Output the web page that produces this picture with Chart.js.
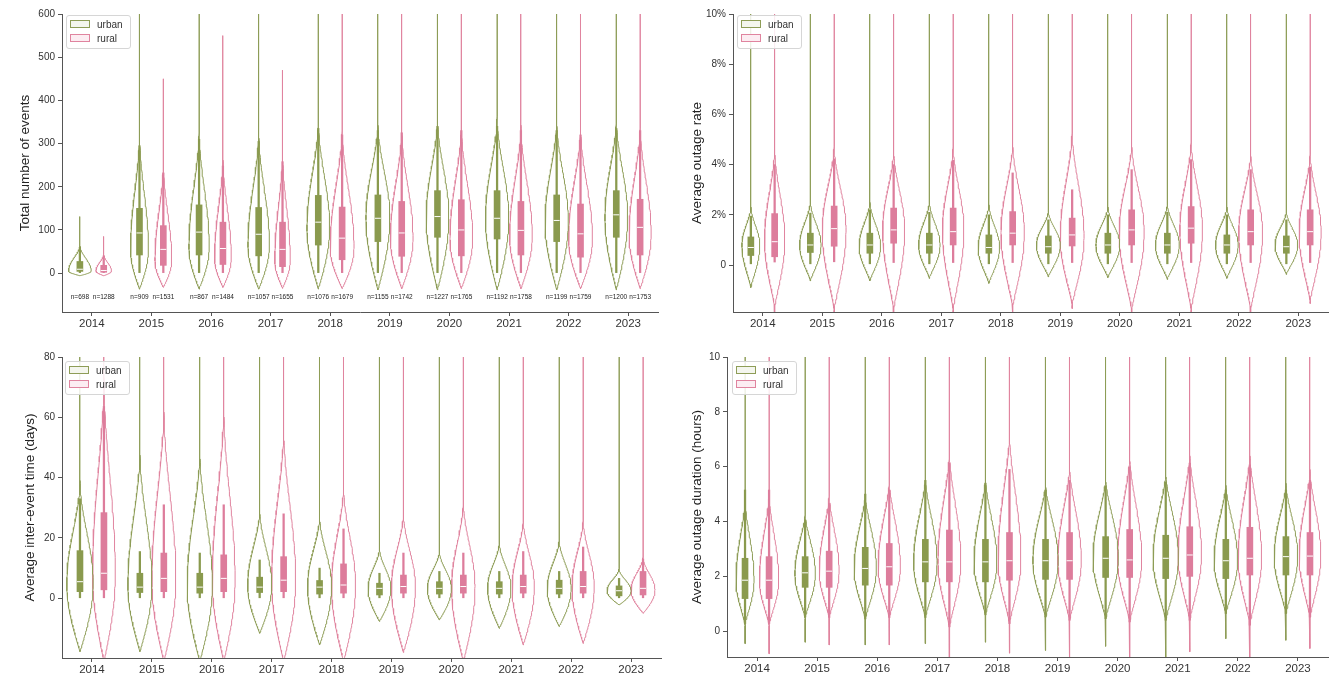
<!DOCTYPE html>
<html><head><meta charset="utf-8">
<script src="https://cdn.jsdelivr.net/npm/chart.js@4.4.1/dist/chart.umd.min.js"></script>
<style>
html,body{margin:0;padding:0;background:#fff;}
#wrap{position:relative;width:1333px;height:673px;overflow:hidden;background:#fff;font-family:"Liberation Sans",Arial,sans-serif;}
canvas{position:absolute;}
.leg{position:absolute;border:1px solid #d6d6d6;border-radius:3px;background:rgba(255,255,255,0.85);padding:2px 7px 2px 3px;font-size:10px;line-height:14px;color:#333;}
.leg div{white-space:nowrap;}
.sw{display:inline-block;width:18px;height:6px;vertical-align:middle;margin:0 7px 0 0;position:relative;top:-1px;}
</style></head><body><div id="wrap">
<canvas id="c1" width="666" height="336" style="left:0;top:0"></canvas>
<canvas id="c2" width="667" height="336" style="left:666px;top:0"></canvas>
<canvas id="c3" width="666" height="337" style="left:0;top:336px"></canvas>
<canvas id="c4" width="667" height="337" style="left:666px;top:336px"></canvas>
</div>
<script>
// ---------------- DATA ----------------
const years = ['2014','2015','2016','2017','2018','2019','2020','2021','2022','2023'];
const groups = ['urban','rural'];
const nUrban = [698, 909, 867, 1057, 1076, 1155, 1227, 1192, 1199, 1200];
const nRural = [1288, 1531, 1484, 1655, 1679, 1742, 1765, 1758, 1759, 1753];

// Tick labels
const evTicks = [0, 100, 200, 300, 400, 500, 600];
const rtTicks = [0, 2, 4, 6, 8, 10];
const itTicks = [0, 20, 40, 60, 80];
const duTicks = [0, 2, 4, 6, 8, 10];

// Panel 1: total number of events
const evUrbanQ1 = [4, 42, 42, 40, 65, 73, 83, 79, 73, 83];
const evUrbanMedian = [9, 93, 95, 90, 118, 127, 131, 127, 122, 135];
const evUrbanQ3 = [27, 150, 158, 152, 180, 181, 191, 191, 181, 191];
const evUrbanWhiskerLow = [0, 0, 0, 0, 0, 0, 0, 0, 0, 0];
const evUrbanWhiskerHigh = [60, 295, 310, 305, 335, 330, 340, 340, 330, 335];
const evUrbanTailLow = [-6, -37, -37, -37, -37, -39, -39, -39, -39, -39];
const evUrbanBodyLow = [-6, -37, -37, -37, -37, -39, -39, -39, -39, -39];
const evUrbanMode = [5, 55, 60, 65, 105, 128, 130, 128, 120, 130];
const evUrbanHalfWidth = [0.19, 0.15, 0.17, 0.18, 0.19, 0.2, 0.19, 0.195, 0.195, 0.19];
const evUrbanBodyHigh = [66, 330, 340, 335, 360, 355, 365, 370, 360, 365];
const evUrbanTailHigh = [131, 650, 650, 650, 650, 650, 650, 650, 650, 650];

const evRuralQ1 = [2, 18, 20, 15, 31, 39, 40, 42, 37, 42];
const evRuralMedian = [6, 55, 57, 55, 81, 93, 100, 99, 91, 106];
const evRuralQ3 = [18, 110, 118, 118, 153, 166, 170, 166, 160, 171];
const evRuralWhiskerLow = [0, 0, 0, 0, 0, 0, 0, 0, 0, 0];
const evRuralWhiskerHigh = [40, 232, 248, 258, 320, 325, 330, 330, 320, 330];
const evRuralTailLow = [-6, -33, -33, -35, -36, -36, -36, -36, -36, -36];
const evRuralBodyLow = [-6, -33, -33, -35, -36, -36, -36, -36, -36, -36];
const evRuralMode = [5, 30, 35, 30, 60, 80, 80, 85, 80, 90];
const evRuralHalfWidth = [0.13, 0.14, 0.14, 0.13, 0.2, 0.19, 0.19, 0.19, 0.2, 0.185];
const evRuralBodyHigh = [45, 260, 275, 285, 345, 340, 350, 350, 345, 350];
const evRuralTailHigh = [85, 450, 550, 470, 650, 650, 650, 650, 650, 650];

// Panel 2: average outage rate (%)
const rtUrbanQ1 = [0.38, 0.5, 0.47, 0.47, 0.47, 0.47, 0.47, 0.47, 0.47, 0.47];
const rtUrbanMedian = [0.7, 0.8, 0.8, 0.8, 0.7, 0.73, 0.8, 0.8, 0.8, 0.73];
const rtUrbanQ3 = [1.12, 1.27, 1.27, 1.27, 1.2, 1.16, 1.27, 1.27, 1.2, 1.16];
const rtUrbanWhiskerLow = [0.05, 0.05, 0.05, 0.05, 0.05, 0.05, 0.05, 0.05, 0.05, 0.05];
const rtUrbanWhiskerHigh = [1.95, 2.07, 2.2, 2.1, 2.0, 1.8, 2.0, 2.1, 2.0, 1.8];
const rtUrbanTailLow = [-0.9, -0.63, -0.63, -0.53, -0.73, -0.47, -0.5, -0.57, -0.53, -0.37];
const rtUrbanBodyLow = [-0.9, -0.63, -0.63, -0.53, -0.73, -0.47, -0.5, -0.57, -0.53, -0.37];
const rtUrbanMode = [0.8, 0.8, 0.75, 0.8, 0.7, 0.8, 0.8, 0.8, 0.8, 0.8];
const rtUrbanHalfWidth = [0.15, 0.18, 0.18, 0.18, 0.18, 0.2, 0.2, 0.2, 0.19, 0.19];
const rtUrbanBodyHigh = [2.4, 2.6, 2.6, 2.6, 2.5, 2.2, 2.4, 2.5, 2.4, 2.2];
const rtUrbanTailHigh = [12, 12, 12, 12, 12, 12, 12, 12, 12, 12];

const rtRuralQ1 = [0.33, 0.75, 0.87, 0.8, 0.8, 0.76, 0.8, 0.87, 0.8, 0.8];
const rtRuralMedian = [0.93, 1.45, 1.4, 1.33, 1.27, 1.2, 1.4, 1.47, 1.33, 1.33];
const rtRuralQ3 = [2.05, 2.35, 2.27, 2.27, 2.13, 1.87, 2.2, 2.33, 2.2, 2.2];
const rtRuralWhiskerLow = [0.12, 0.13, 0.1, 0.1, 0.1, 0.1, 0.1, 0.1, 0.1, 0.1];
const rtRuralWhiskerHigh = [4.0, 4.23, 4.0, 4.17, 3.67, 3.0, 3.8, 4.2, 3.8, 3.9];
const rtRuralTailLow = [-3, -3, -3, -3, -1.9, -1.73, -3, -3, -3, -1.53];
const rtRuralBodyLow = [-1.7, -1.8, -1.8, -1.8, -1.7, -1.6, -1.8, -1.8, -1.8, -1.45];
const rtRuralMode = [1.0, 1.4, 1.4, 1.4, 1.3, 1.13, 1.3, 1.4, 1.3, 1.3];
const rtRuralHalfWidth = [0.17, 0.2, 0.185, 0.18, 0.196, 0.2, 0.21, 0.19, 0.2, 0.185];
const rtRuralBodyHigh = [4.8, 4.9, 4.7, 4.9, 5.0, 5.5, 5.0, 5.1, 4.6, 4.6];
const rtRuralTailHigh = [12, 12, 12, 12, 12, 12, 12, 12, 12, 12];

// Panel 3: average inter-event time (days)
const itUrbanQ1 = [2.2, 1.9, 1.7, 1.9, 1.4, 1.1, 1.4, 1.4, 1.4, 0.8];
const itUrbanMedian = [5.5, 3.7, 3.7, 3.7, 3.7, 3.3, 3.3, 3.3, 3.3, 2.5];
const itUrbanQ3 = [15.8, 8.3, 8.3, 7.0, 5.9, 5.0, 5.5, 5.5, 6.0, 4.1];
const itUrbanWhiskerLow = [0, 0, 0, 0, 0, 0, 0, 0, 0, 0];
const itUrbanWhiskerHigh = [33, 15.5, 15, 12.7, 10, 8.3, 8.9, 8.9, 8.9, 6.6];
const itUrbanTailLow = [-17.7, -17.7, -21, -11.6, -15.5, -7.7, -7.2, -10, -9.4, -2.2];
const itUrbanBodyLow = [-17.7, -17.7, -21, -11.6, -15.5, -7.7, -7.2, -10, -9.4, -2.2];
const itUrbanMode = [5, 4.4, 4.4, 4.4, 4, 3.3, 3.3, 3.5, 3.3, 2.5];
const itUrbanHalfWidth = [0.22, 0.2, 0.21, 0.2, 0.2, 0.19, 0.2, 0.195, 0.2, 0.2];
const itUrbanBodyHigh = [40, 50, 50, 30, 28, 17, 16, 19, 20, 10];
const itUrbanTailHigh = [90, 90, 90, 90, 90, 90, 90, 90, 90, 90];

const itRuralQ1 = [2.8, 2.2, 2.2, 2.2, 1.7, 1.7, 1.7, 1.7, 1.7, 1.1];
const itRuralMedian = [8.3, 6.6, 6.6, 6.0, 4.4, 3.9, 3.9, 3.9, 3.9, 3.3];
const itRuralQ3 = [28.4, 15, 14.4, 13.8, 11.4, 7.7, 7.7, 7.7, 8.9, 8.9];
const itRuralWhiskerLow = [0, 0, 0, 0, 0, 0, 0, 0, 0, 0];
const itRuralWhiskerHigh = [63.6, 31, 31, 28, 23, 15, 15, 15.5, 17, 13];
const itRuralTailLow = [-25, -25, -25, -25, -25, -18, -25, -15.5, -15, -5];
const itRuralBodyLow = [-21, -21, -21, -21, -21, -18, -21, -15.5, -15, -5];
const itRuralMode = [8, 6, 6, 6, 4.4, 3.9, 3.9, 3.9, 3.9, 2.8];
const itRuralHalfWidth = [0.19, 0.2, 0.19, 0.2, 0.2, 0.2, 0.195, 0.185, 0.185, 0.2];
const itRuralBodyHigh = [75, 65, 65, 58, 38, 29, 33, 27, 27, 14];
const itRuralTailHigh = [90, 90, 90, 90, 90, 90, 90, 90, 90, 90];

// Panel 4: average outage duration (hours)
const duUrbanQ1 = [1.19, 1.6, 1.68, 1.8, 1.8, 1.89, 1.96, 1.92, 1.92, 2.05];
const duUrbanMedian = [1.86, 2.13, 2.29, 2.53, 2.53, 2.57, 2.66, 2.66, 2.57, 2.72];
const duUrbanQ3 = [2.66, 2.72, 3.06, 3.35, 3.35, 3.35, 3.45, 3.5, 3.35, 3.45];
const duUrbanWhiskerLow = [0.28, 0.52, 0.45, 0.5, 0.6, 0.52, 0.46, 0.4, 0.65, 0.65];
const duUrbanWhiskerHigh = [5.15, 4.06, 5.0, 5.5, 5.4, 5.15, 5.3, 5.45, 5.15, 5.15];
const duUrbanTailLow = [-0.45, -0.4, -0.5, -0.45, -0.4, -0.7, -0.55, -1.0, -0.27, -0.33];
const duUrbanBodyLow = [0.2, 0.45, 0.4, 0.45, 0.55, 0.45, 0.4, 0.35, 0.6, 0.6];
const duUrbanMode = [1.86, 2.1, 2.29, 2.5, 2.5, 2.57, 2.66, 2.66, 2.57, 2.72];
const duUrbanHalfWidth = [0.15, 0.17, 0.185, 0.195, 0.19, 0.21, 0.21, 0.21, 0.195, 0.195];
const duUrbanBodyHigh = [4.8, 4.3, 5.0, 5.6, 5.6, 5.4, 5.6, 5.8, 5.4, 5.4];
const duUrbanTailHigh = [12, 12, 12, 12, 12, 12, 12, 12, 12, 12];

const duRuralQ1 = [1.19, 1.6, 1.68, 1.8, 1.86, 1.89, 1.96, 2.0, 2.05, 2.05];
const duRuralMedian = [1.86, 2.19, 2.35, 2.53, 2.57, 2.57, 2.6, 2.78, 2.66, 2.74];
const duRuralQ3 = [2.72, 2.92, 3.2, 3.69, 3.6, 3.6, 3.71, 3.81, 3.79, 3.6];
const duRuralWhiskerLow = [0.28, 0.5, 0.5, 0.16, 0.28, 0.4, 0.34, 0.4, 0.22, 0.52];
const duRuralWhiskerHigh = [5.15, 4.66, 5.15, 6.13, 5.9, 5.5, 6.0, 6.13, 6.07, 5.5];
const duRuralTailLow = [-0.82, -0.5, -0.5, -1.2, -0.8, -1.0, -1.2, -0.75, -1.2, -0.63];
const duRuralBodyLow = [0.2, 0.45, 0.45, 0.1, 0.25, 0.35, 0.3, 0.35, 0.2, 0.45];
const duRuralMode = [1.86, 2.19, 2.35, 2.53, 2.57, 2.57, 2.6, 2.78, 2.66, 2.74];
const duRuralHalfWidth = [0.16, 0.165, 0.185, 0.19, 0.19, 0.195, 0.2, 0.195, 0.195, 0.18];
const duRuralBodyHigh = [5.0, 5.0, 5.5, 6.5, 7.2, 6.0, 6.4, 6.5, 6.5, 5.9];
const duRuralTailHigh = [12, 12, 12, 12, 12, 12, 12, 12, 12, 12];

// ---------------- STYLE ----------------
Chart.defaults.font.family = "'Liberation Sans', Arial, Helvetica, sans-serif";
const URBAN_LINE = '#8e9d57', URBAN_FILL = '#8a9a4e';
const RURAL_LINE = '#e0849f', RURAL_FILL = '#dd7d9c';
const AXIS = '#555', TXT = '#333';

function grp(q1, med, q3, wLo, wHi, tLo, bLo, mode, hw, bHi, tHi) {
  return {q1, med, q3, wLo, wHi, tLo, bLo, mode, hw, bHi, tHi};
}

// violin outline (in data units) built from read-off shape parameters
function outline(c, tLo, bLo, mode, w, bHi, tHi, aLo, aHi) {
  const side = [[tLo, 0]];
  const N = 36;
  for (let k = 0; k <= N; k++) {
    const v = bLo + (mode - bLo) * k / N;
    const t = (mode - v) / (mode - bLo || 1);
    side.push([v, w * Math.pow(Math.max(0, Math.cos(Math.PI / 2 * t)), aLo)]);
  }
  for (let k = 1; k <= N; k++) {
    const v = mode + (bHi - mode) * k / N;
    const t = (v - mode) / (bHi - mode);
    side.push([v, w * Math.pow(Math.max(0, Math.cos(Math.PI / 2 * t)), aHi)]);
  }
  side.push([tHi, 0]);
  const pts = side.map(([v, h]) => ({x: c + h, y: v}));
  for (let i = side.length - 1; i >= 0; i--) pts.push({x: c - side[i][1], y: side[i][0]});
  return pts;
}

function groupDatasets(g, off, line, fill, aLo, aHi, name) {
  const ds = [];
  years.forEach((yr, i) => {
    ds.push({type: 'line', label: name + ' ' + yr,
      data: outline(i + off, g.tLo[i], g.bLo[i], g.mode[i], g.hw[i], g.bHi[i], g.tHi[i], aLo, aHi),
      borderColor: line, borderWidth: 1, pointRadius: 0, fill: false, tension: 0, order: 3});
  });
  ds.push({type: 'bar', label: name + ' whiskers',
    data: years.map((_, i) => ({x: i + off, y: [g.wLo[i], g.wHi[i]]})),
    backgroundColor: fill, borderWidth: 0, barThickness: 1.6, grouped: false, order: 2});
  ds.push({type: 'bar', label: name + ' IQR',
    data: years.map((_, i) => ({x: i + off, y: [g.q1[i], g.q3[i]]})),
    backgroundColor: fill, borderWidth: 0, barThickness: 6, grouped: false, order: 1});
  ds.push({type: 'scatter', label: name + ' median',
    data: years.map((_, i) => ({x: i + off, y: g.med[i]})),
    pointStyle: 'line', pointRadius: 3, pointBorderColor: '#ffffff', pointBackgroundColor: '#ffffff',
    pointBorderWidth: 1, showLine: false, order: 0});
  return ds;
}

const nLabelPlugin = {
  id: 'nLabels',
  afterDatasetsDraw(chart, args, opts) {
    if (!opts.show) return;
    const {ctx, scales: {x, y}} = chart;
    ctx.save();
    ctx.font = "6.5px 'Liberation Sans', Arial, sans-serif";
    ctx.fillStyle = '#222';
    ctx.textAlign = 'center';
    ctx.textBaseline = 'middle';
    const py = y.getPixelForValue(opts.yValue);
    years.forEach((_, i) => {
      ctx.fillText('n=' + nUrban[i], x.getPixelForValue(i - 0.2), py);
      ctx.fillText('n=' + nRural[i], x.getPixelForValue(i + 0.2), py);
    });
    ctx.restore();
  }
};

const panels = [
  {id: 'c1', w: 666, h: 336, area: {l: 62, t: 14, r: 658, b: 312}, padL: 15,
   yMin: -90, yMax: 600, ticks: evTicks, title: 'Total number of events', fmt: v => String(v),
   aLo: 1, aHi: 2, nLabels: true, legend: {left: 66, top: 15},
   urban: grp(evUrbanQ1, evUrbanMedian, evUrbanQ3, evUrbanWhiskerLow, evUrbanWhiskerHigh, evUrbanTailLow, evUrbanBodyLow, evUrbanMode, evUrbanHalfWidth, evUrbanBodyHigh, evUrbanTailHigh),
   rural: grp(evRuralQ1, evRuralMedian, evRuralQ3, evRuralWhiskerLow, evRuralWhiskerHigh, evRuralTailLow, evRuralBodyLow, evRuralMode, evRuralHalfWidth, evRuralBodyHigh, evRuralTailHigh)},
  {id: 'c2', w: 667, h: 336, area: {l: 67, t: 14, r: 662, b: 312}, padL: 21,
   yMin: -1.87, yMax: 10, ticks: rtTicks, title: 'Average outage rate', fmt: v => v === 0 ? '0' : v + '%',
   aLo: 1.2, aHi: 2, nLabels: false, legend: {left: 737, top: 15},
   urban: grp(rtUrbanQ1, rtUrbanMedian, rtUrbanQ3, rtUrbanWhiskerLow, rtUrbanWhiskerHigh, rtUrbanTailLow, rtUrbanBodyLow, rtUrbanMode, rtUrbanHalfWidth, rtUrbanBodyHigh, rtUrbanTailHigh),
   rural: grp(rtRuralQ1, rtRuralMedian, rtRuralQ3, rtRuralWhiskerLow, rtRuralWhiskerHigh, rtRuralTailLow, rtRuralBodyLow, rtRuralMode, rtRuralHalfWidth, rtRuralBodyHigh, rtRuralTailHigh)},
  {id: 'c3', w: 666, h: 337, area: {l: 62, t: 21, r: 663, b: 322}, padL: 20,
   yMin: -19.8, yMax: 80, ticks: itTicks, title: 'Average inter-event time (days)', fmt: v => String(v),
   aLo: 1, aHi: 2, nLabels: false, legend: {left: 65, top: 361},
   urban: grp(itUrbanQ1, itUrbanMedian, itUrbanQ3, itUrbanWhiskerLow, itUrbanWhiskerHigh, itUrbanTailLow, itUrbanBodyLow, itUrbanMode, itUrbanHalfWidth, itUrbanBodyHigh, itUrbanTailHigh),
   rural: grp(itRuralQ1, itRuralMedian, itRuralQ3, itRuralWhiskerLow, itRuralWhiskerHigh, itRuralTailLow, itRuralBodyLow, itRuralMode, itRuralHalfWidth, itRuralBodyHigh, itRuralTailHigh)},
  {id: 'c4', w: 667, h: 337, area: {l: 61, t: 21, r: 662, b: 321}, padL: 21,
   yMin: -0.94, yMax: 10, ticks: duTicks, title: 'Average outage duration (hours)', fmt: v => String(v),
   aLo: 1.3, aHi: 1.6, nLabels: false, legend: {left: 732, top: 361},
   urban: grp(duUrbanQ1, duUrbanMedian, duUrbanQ3, duUrbanWhiskerLow, duUrbanWhiskerHigh, duUrbanTailLow, duUrbanBodyLow, duUrbanMode, duUrbanHalfWidth, duUrbanBodyHigh, duUrbanTailHigh),
   rural: grp(duRuralQ1, duRuralMedian, duRuralQ3, duRuralWhiskerLow, duRuralWhiskerHigh, duRuralTailLow, duRuralBodyLow, duRuralMode, duRuralHalfWidth, duRuralBodyHigh, duRuralTailHigh)}
];

const wrap = document.getElementById('wrap');
panels.forEach(p => {
  const datasets = [].concat(
    groupDatasets(p.urban, -0.2, URBAN_LINE, URBAN_FILL, p.aLo, p.aHi, 'urban'),
    groupDatasets(p.rural, 0.2, RURAL_LINE, RURAL_FILL, p.aLo, p.aHi, 'rural'));
  new Chart(document.getElementById(p.id), {
    type: 'scatter',
    data: {datasets},
    plugins: [nLabelPlugin],
    options: {
      animation: false, responsive: false, devicePixelRatio: 1, events: [],
      layout: {padding: {left: p.padL, top: p.area.t, right: p.w - p.area.r, bottom: 0}},
      plugins: {legend: {display: false}, tooltip: {enabled: false},
        nLabels: {show: p.nLabels, yValue: -55}},
      scales: {
        x: {type: 'linear', min: -0.5, max: 9.5, offset: false,
          afterBuildTicks: s => { s.ticks = years.map((_, i) => ({value: i})); },
          afterFit: s => { s.height = p.h - p.area.b; },
          ticks: {callback: v => years[Math.round(v)], font: {size: 11.5}, color: TXT, padding: 1, maxRotation: 0, autoSkip: false},
          grid: {display: true, drawOnChartArea: false, drawTicks: true, tickLength: 4, color: AXIS, offset: false},
          border: {display: true, color: AXIS, width: 1}},
        y: {type: 'linear', min: p.yMin, max: p.yMax, beginAtZero: false,
          afterBuildTicks: s => { s.ticks = p.ticks.map(v => ({value: v})); },
          afterFit: s => { s.width = p.area.l - p.padL; },
          ticks: {callback: p.fmt, font: {size: 10}, color: TXT, padding: 3},
          grid: {display: true, drawOnChartArea: false, drawTicks: true, tickLength: 4, color: AXIS},
          border: {display: true, color: AXIS, width: 1},
          title: {display: true, text: p.title, font: {size: 13.5}, color: '#222', padding: {top: 2, bottom: 0}}}
      }
    }
  });
  // legend
  const lg = document.createElement('div');
  lg.className = 'leg';
  lg.style.left = p.legend.left + 'px';
  lg.style.top = p.legend.top + 'px';
  lg.innerHTML =
    '<div><span class="sw" style="border:1px solid ' + URBAN_LINE + ';background:#f4f6ee"></span>' + groups[0] + '</div>' +
    '<div><span class="sw" style="border:1px solid ' + RURAL_LINE + ';background:#fcedf2"></span>' + groups[1] + '</div>';
  wrap.appendChild(lg);
});
</script>
</body></html>
